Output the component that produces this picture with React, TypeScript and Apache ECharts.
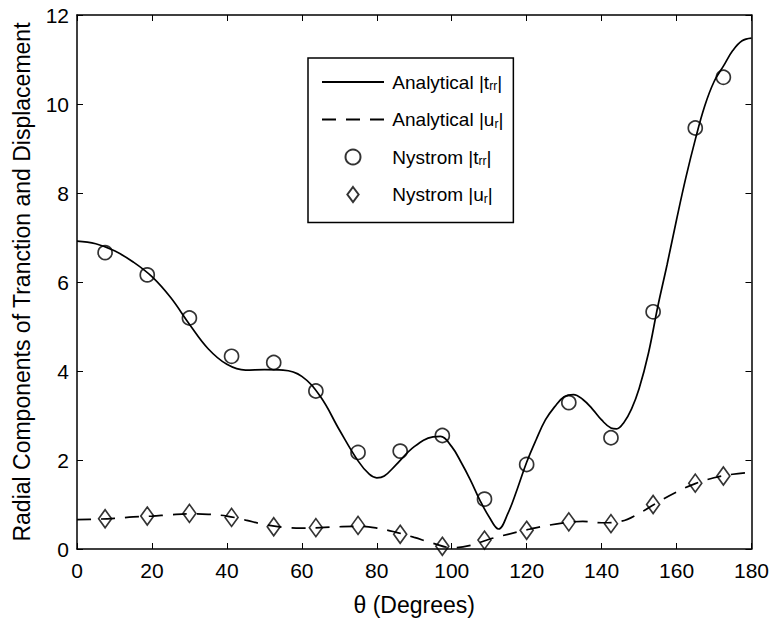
import React, { useEffect, useRef } from "react";
import * as echarts from "echarts";

const trrAngles = [0, 5, 10, 15, 20, 25, 30, 35, 40, 45, 50, 55, 60, 65, 70, 75, 78, 80, 82, 85, 90, 95, 97, 100, 102.5, 105, 107.5, 110, 112.5, 115, 117.5, 120, 122.5, 125, 127.5, 130, 132.5, 135, 137.5, 140, 142.5, 144, 146, 148, 150, 152.5, 155, 157.5, 160, 162.5, 165, 167.5, 170, 172.5, 175, 177.5, 180];
const trrAnalytical = [6.92, 6.86, 6.7, 6.45, 6.12, 5.65, 5.05, 4.5, 4.15, 4.02, 4.03, 4.02, 3.88, 3.42, 2.68, 1.98, 1.68, 1.6, 1.64, 1.88, 2.3, 2.52, 2.53, 2.3, 1.95, 1.55, 1.1, 0.72, 0.45, 0.8, 1.35, 1.95, 2.45, 2.9, 3.2, 3.42, 3.47, 3.36, 3.15, 2.9, 2.72, 2.7, 2.85, 3.15, 3.6, 4.4, 5.45, 6.4, 7.4, 8.35, 9.2, 9.95, 10.5, 10.85, 11.2, 11.42, 11.48];

const urAngles = [0, 5, 10, 15, 20, 25, 30, 35, 40, 45, 50, 55, 60, 65, 70, 75, 80, 85, 90, 95, 100, 105, 110, 115, 120, 125, 130, 135, 140, 145, 150, 155, 160, 165, 170, 175, 180];
const urAnalytical = [0.66, 0.67, 0.69, 0.72, 0.74, 0.77, 0.79, 0.78, 0.74, 0.65, 0.55, 0.49, 0.47, 0.48, 0.5, 0.51, 0.47, 0.38, 0.26, 0.13, 0.03, 0.08, 0.22, 0.33, 0.43, 0.52, 0.59, 0.62, 0.59, 0.62, 0.8, 1.05, 1.28, 1.47, 1.6, 1.68, 1.72];

const nysAngles = [7.5, 18.75, 30, 41.25, 52.5, 63.75, 75, 86.25, 97.5, 108.75, 120, 131.25, 142.5, 153.75, 165, 172.5];
const nysTrr = [6.66, 6.16, 5.19, 4.33, 4.19, 3.55, 2.17, 2.2, 2.55, 1.12, 1.9, 3.29, 2.5, 5.33, 9.46, 10.6];
const nysUr = [0.68, 0.74, 0.8, 0.71, 0.5, 0.48, 0.53, 0.33, 0.06, 0.2, 0.42, 0.61, 0.57, 1.0, 1.48, 1.64];

const xTicks = { min: 0, max: 180, interval: 20 };
const yTicks = { min: 0, max: 12, interval: 2 };

const legendNames = [
  "{g| }Analytical |t{s|rr}|",
  "{g| }Analytical |u{s|r}|",
  "{g| }Nystrom |t{s|rr}|",
  "{g| }Nystrom |u{s|r}|",
];

const FONT = "'Liberation Sans', Arial, Helvetica, sans-serif";
const DIAMOND_ICON = "path://M6,0L12,8L6,16L0,8Z";

export default function App() {
  const ref = useRef<HTMLDivElement>(null);
  useEffect(() => {
    if (!ref.current) return;
    const chart = echarts.init(ref.current, undefined, { renderer: "svg" });
    const pair = (xs: number[], ys: number[]) => xs.map((x, i) => [x, ys[i]]);
    const axisCommon = {
      type: "value" as const,
      axisLine: { show: true, onZero: false, lineStyle: { color: "#000", width: 1.5 } },
      axisTick: { show: true, inside: true, length: 6, lineStyle: { color: "#000", width: 1 } },
      splitLine: { show: false },
    };
    const hollow = { color: "rgba(0,0,0,0)", borderColor: "#000", borderWidth: 1.7 };
    chart.setOption({
      animation: false,
      backgroundColor: "#fff",
      textStyle: { fontFamily: FONT },
      grid: { left: 77, right: 19, top: 15, bottom: 73, containLabel: false },
      xAxis: [
        {
          ...axisCommon,
          ...xTicks,
          position: "bottom",
          name: "θ (Degrees)",
          nameLocation: "middle",
          nameGap: 44,
          nameTextStyle: { fontSize: 23, color: "#000", fontFamily: FONT },
          axisLabel: { fontSize: 21, color: "#000", margin: 11, fontFamily: FONT },
        },
        {
          ...axisCommon,
          ...xTicks,
          position: "top",
          axisLabel: { show: false },
        },
      ],
      yAxis: [
        {
          ...axisCommon,
          ...yTicks,
          position: "left",
          name: "Radial Components of Tranction and Displacement",
          nameLocation: "middle",
          nameGap: 44,
          nameTextStyle: { fontSize: 23, color: "#000", fontFamily: FONT },
          axisLabel: { fontSize: 21, color: "#000", margin: 8, fontFamily: FONT },
        },
        {
          ...axisCommon,
          ...yTicks,
          position: "right",
          axisLabel: { show: false },
        },
      ],
      legend: {
        show: true,
        left: 308,
        top: 58,
        orient: "vertical",
        backgroundColor: "#fff",
        borderColor: "#000",
        borderWidth: 1.5,
        borderRadius: 0,
        padding: [13, 10, 17, 13],
        itemGap: 15.5,
        itemWidth: 62,
        itemHeight: 15,
        data: [
          { name: legendNames[0], itemStyle: { opacity: 0 } },
          { name: legendNames[1], itemStyle: { opacity: 0 } },
          { name: legendNames[2], icon: "circle" },
          { name: legendNames[3], icon: DIAMOND_ICON },
        ],
        formatter: (name: string) => name,
        textStyle: {
          fontSize: 19,
          color: "#000",
          fontFamily: FONT,
          lineHeight: 22,
          rich: {
            g: { fontSize: 12, fontFamily: FONT },
            s: { fontSize: 12, color: "#000", fontFamily: FONT, padding: [8, 0, 0, 0] },
          },
        },
      },
      series: [
        {
          name: legendNames[0],
          type: "line",
          data: pair(trrAngles, trrAnalytical),
          smooth: 0.4,
          showSymbol: false,
          symbol: "none",
          lineStyle: { color: "#000", width: 1.7, type: "solid" },
          itemStyle: { color: "#000" },
          z: 2,
        },
        {
          name: legendNames[1],
          type: "line",
          data: pair(urAngles, urAnalytical),
          smooth: 0.4,
          showSymbol: false,
          symbol: "none",
          lineStyle: { color: "#000", width: 1.7, type: [14, 10] },
          itemStyle: { color: "#000" },
          z: 2,
        },
        {
          name: legendNames[2],
          type: "scatter",
          data: pair(nysAngles, nysTrr),
          symbol: "circle",
          symbolSize: 14,
          itemStyle: hollow,
          z: 3,
        },
        {
          name: legendNames[3],
          type: "scatter",
          data: pair(nysAngles, nysUr),
          symbol: "diamond",
          symbolSize: [13, 18],
          itemStyle: hollow,
          z: 3,
        },
      ],
    });
    return () => chart.dispose();
  }, []);
  return (
    <div
      ref={ref}
      style={{ position: "absolute", left: 0, top: 0, width: 772, height: 622, background: "#fff" }}
    />
  );
}
